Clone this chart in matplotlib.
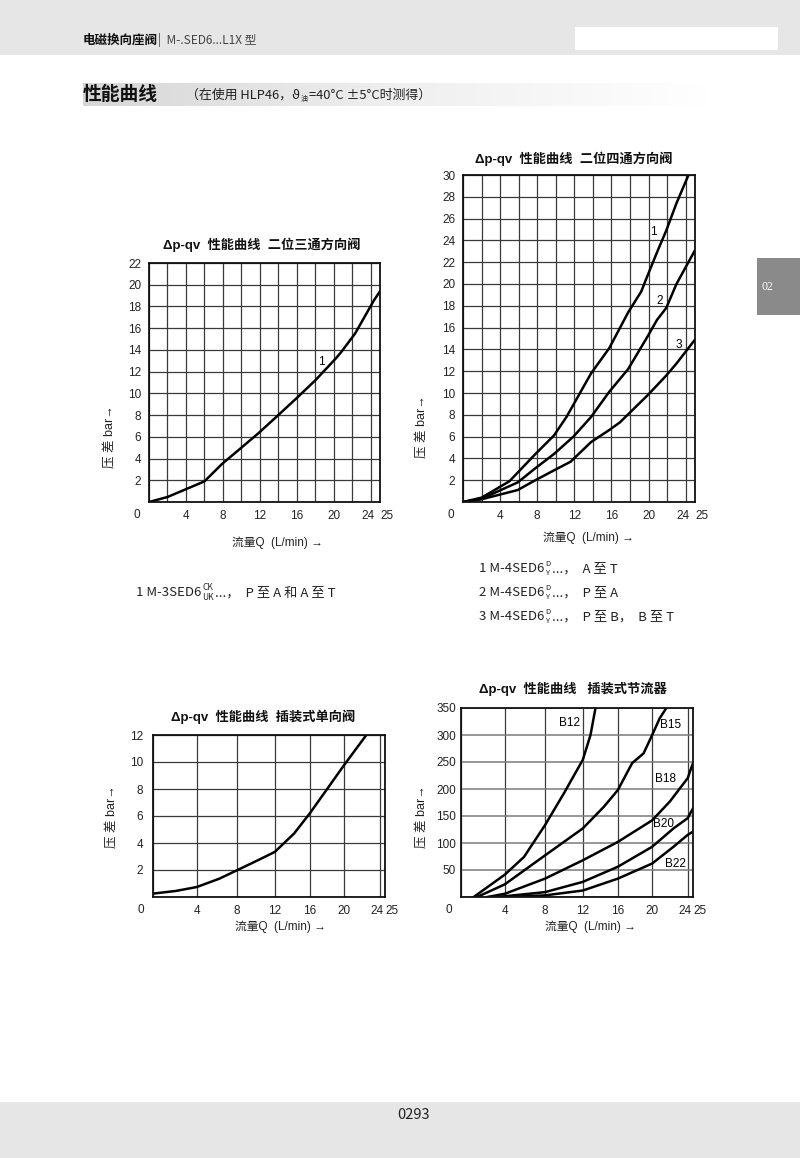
import matplotlib
matplotlib.use('Agg')
import matplotlib.pyplot as plt
import numpy as np
from matplotlib.patches import Rectangle
from matplotlib.colors import LinearSegmentedColormap
from matplotlib.transforms import ScaledTranslation

W, H = 800, 1158
FONT = ['Liberation Sans', 'Noto Sans CJK SC', 'DejaVu Sans']
CJK = ['Noto Sans CJK SC', 'DejaVu Sans']

# chart 1: 二位三通方向阀
q1 = [0, 2.0, 6.0, 7.9, 9.8, 11.8, 13.8, 15.9, 18.0, 20.2, 20.8, 22.3, 24.3, 25.0]
p1 = [0, 0.46, 1.9, 3.5, 4.86, 6.3, 7.85, 9.5, 11.2, 13.2, 13.8, 15.5, 18.5, 19.4]

# chart 2: 二位四通方向阀 (curves 1, 2, 3)
q2a = [0, 2.0, 5.0, 7.8, 9.8, 11.15, 13.8, 15.75, 17.8, 19.2, 19.9, 21.0, 21.9, 23.0, 24.3]
p2a = [0, 0.4, 1.9, 4.4, 6.1, 7.8, 11.8, 14.1, 17.4, 19.3, 20.8, 23.1, 24.9, 27.4, 30.0]
q2b = [0, 2.0, 5.9, 7.8, 9.8, 11.9, 13.8, 15.75, 17.8, 19.9, 20.9, 21.9, 23.0, 25.0]
p2b = [0, 0.3, 1.8, 3.1, 4.4, 6.0, 7.8, 10.1, 12.2, 15.2, 16.7, 17.8, 20.0, 23.1]
q2c = [0, 2.0, 5.9, 7.8, 9.8, 11.6, 13.8, 15.75, 16.9, 19.9, 21.9, 23.0, 25.0]
p2c = [0, 0.25, 1.1, 2.0, 2.9, 3.7, 5.5, 6.6, 7.3, 9.8, 11.6, 12.7, 14.9]
labels2 = ['1', '2', '3']
lab2_q = [20.5, 21.15, 23.2]
lab2_p = [24.8, 18.4, 14.4]

# chart 3: 插装式单向阀
q3 = [0, 2.1, 4.0, 6.25, 8.0, 10.0, 12.0, 14.2, 16.0, 18.06, 20.0, 22.5]
p3 = [0.25, 0.45, 0.74, 1.36, 1.98, 2.65, 3.34, 4.7, 6.2, 8.04, 9.78, 12.0]

# chart 4: 插装式节流器
q_b12 = [1.16, 4.0, 5.9, 8.0, 10.0, 12.0, 12.88, 13.45]
p_b12 = [0, 41.5, 74, 133, 192, 254, 300, 350]
q_b15 = [1.47, 4.0, 8.0, 12.0, 14.4, 16.0, 17.67, 19.0, 20.0, 20.85, 21.6]
p_b15 = [0, 23.5, 77, 127, 167, 198, 248, 266, 300, 331, 350]
q_b18 = [2.4, 4.0, 8.0, 12.0, 16.0, 20.0, 22.0, 24.0, 25.0]
p_b18 = [0, 6, 34, 68, 102, 142, 177, 220, 248]
q_b20 = [3.3, 8.0, 12.0, 16.0, 20.0, 22.4, 24.0, 25.0]
p_b20 = [0, 9, 28, 56, 93, 127, 146, 164]
q_b22 = [4.0, 8.0, 12.0, 16.0, 20.0, 22.4, 24.0, 25.0]
p_b22 = [0, 3, 12, 34, 62, 93, 115, 121]
labels4 = ['B12', 'B15', 'B18', 'B20', 'B22']
lab4_q = [10.6, 22.1, 21.5, 21.3, 22.6]
lab4_p = [323, 319, 219, 135, 61]

# the lower charts use an uneven flow axis
warp_q = [0, 4, 8, 12, 16, 20, 24, 25]
warp_f = [0, 0.189, 0.362, 0.525, 0.676, 0.824, 0.977, 1.0]

fig = plt.figure(figsize=(W / 100, H / 100), dpi=100)
renderer = fig.canvas.get_renderer()


def px_ax(l, t, r, b):
    return fig.add_axes([l / W, 1 - b / H, (r - l) / W, (b - t) / H])


def ftext(x, y, s, **kw):
    return fig.text(x / W, 1 - y / H, s, **kw)


def frect(x0, y0, x1, y1, color):
    fig.patches.append(Rectangle((x0 / W, 1 - y1 / H), (x1 - x0) / W, (y1 - y0) / H,
                                 transform=fig.transFigure, color=color, zorder=0, lw=0))


def run_text(x, y, parts, size=9.5, small=5.5, color='#222'):
    # lay out pieces of text one after another; a tuple is a stacked pair
    for p in parts:
        if isinstance(p, tuple):
            t1 = ftext(x + 1, y - 5.5, p[0], ha='left', va='center', fontsize=small, family=CJK, color=color)
            t2 = ftext(x + 1, y + 4, p[1], ha='left', va='center', fontsize=small, family=CJK, color=color)
            w = max(t1.get_window_extent(renderer).width, t2.get_window_extent(renderer).width)
            x += w + 2
        else:
            t = ftext(x, y, p, ha='left', va='center', fontsize=size, family=CJK, color=color)
            x += t.get_window_extent(renderer).width


def setup(ax, xgrid, ymax, ystep, ypad=5.5, warped=False):
    if warped:
        fwd = lambda x: np.interp(x, warp_q, warp_f) * 25
        inv = lambda y: np.interp(np.asarray(y) / 25, warp_f, warp_q)
        ax.set_xscale('function', functions=(fwd, inv))
    ax.set_xlim(0, 25)
    ax.set_ylim(0, ymax)
    xl = [str(v) if (v % 4 == 0 and v > 0) or v == 25 else '' for v in xgrid]
    ax.set_xticks(xgrid, labels=xl)
    yt = np.arange(0, ymax + 1, ystep)
    ax.set_yticks(yt, labels=['' if v == 0 else str(int(v)) for v in yt])
    ax.tick_params(length=0, labelsize=8.5, colors='#222')
    ax.tick_params(axis='x', pad=5.5)
    ax.tick_params(axis='y', pad=ypad)
    for lbl in ax.get_xticklabels() + ax.get_yticklabels():
        lbl.set_family(FONT)
    for lbl in ax.get_xticklabels():
        if lbl.get_text() == '24':
            lbl.set_transform(lbl.get_transform() + ScaledTranslation(-0.03, 0, fig.dpi_scale_trans))
        if lbl.get_text() == '25':
            lbl.set_transform(lbl.get_transform() + ScaledTranslation(0.07, 0, fig.dpi_scale_trans))
    ax.grid(True, color='#3a3a3a', lw=0.9)
    for s in ax.spines.values():
        s.set_linewidth(1.3)
        s.set_color('#111')
    ax.annotate('0', xy=(0, 0), xycoords='axes fraction', xytext=(-9, -9.5),
                textcoords='offset points', ha='center', va='center',
                fontsize=8.5, family=FONT, color='#222')


def titles(cx, ty, title, xl_x, xl_y, yl_x, yl_y):
    ftext(cx, ty, title, ha='center', va='center', fontsize=9.5, weight='bold', family=FONT, color='#111')
    ftext(xl_x, xl_y, '流量Q  (L/min) →', ha='center', va='center', fontsize=8.5, family=FONT, color='#222')
    ftext(yl_x, yl_y, '压 差 bar→', ha='center', va='center', fontsize=9, rotation=90, family=FONT, color='#222')


# page decoration
frect(0, 0, 800, 55, '#e6e6e6')
frect(575, 27, 778, 50, 'white')
frect(0, 1102, 800, 1158, '#e6e6e6')
frect(757, 258, 800, 315, '#8a8a8a')
ftext(761, 287, '02', ha='left', va='center', fontsize=8.5, family=['Liberation Serif'], color='white')
ftext(83, 40, '电磁换向座阀', ha='left', va='center', fontsize=9, weight='bold', family=CJK, color='#111')
ftext(158, 40, '|  M-.SED6...L1X 型', ha='left', va='center', fontsize=8.5, family=CJK, color='#444')
ftext(413, 1115, '0293', ha='center', va='center', fontsize=10.5, family=CJK, color='#222')

gax = px_ax(83, 83, 710, 106)
grad = np.linspace(0, 1, 256)[None, :]
gax.imshow(grad, aspect='auto', extent=(0, 1, 0, 1),
           cmap=LinearSegmentedColormap.from_list('g', ['#d6d6d6', '#efefef', '#ffffff']))
gax.axis('off')
ftext(83, 95, '性能曲线', ha='left', va='center', fontsize=13.5, weight='bold', family=CJK, color='#111')
run_text(186, 95, ['（在使用 HLP46，ϑ', ('', '油'), '=40°C ±5°C时测得）'], size=9.3, small=5)

grid2 = list(range(0, 25, 2)) + [25]
grid4 = warp_q

# chart 1
ax1 = px_ax(149, 263, 380, 502)
setup(ax1, grid2, 22, 2)
ax1.plot(q1, p1, color='black', lw=1.8)
ax1.text(18.7, 12.9, '1', ha='center', va='center', fontsize=8.5, family=FONT)
titles(262, 245, 'Δp-qv  性能曲线  二位三通方向阀', 277, 543, 110, 437)

# chart 2
ax2 = px_ax(463, 175, 695, 502)
setup(ax2, grid2, 30, 2)
for q, p in [(q2a, p2a), (q2b, p2b), (q2c, p2c)]:
    ax2.plot(q, p, color='black', lw=1.8)
for s, x, y in zip(labels2, lab2_q, lab2_p):
    ax2.text(x, y, s, ha='center', va='center', fontsize=8.5, family=FONT)
titles(574, 159, 'Δp-qv  性能曲线  二位四通方向阀', 588, 538, 422, 427)

# chart 3
ax3 = px_ax(153, 735, 385, 897)
setup(ax3, grid4, 12, 2, ypad=7, warped=True)
ax3.plot(q3, p3, color='black', lw=1.8)
titles(263, 717, 'Δp-qv  性能曲线  插装式单向阀', 280, 927, 112, 817)

# chart 4
ax4 = px_ax(461, 708, 693, 897)
setup(ax4, grid4, 350, 50, ypad=3.5, warped=True)
ax4.grid(True, axis='y', color='#7a7a7a', lw=1.1)
for q, p in [(q_b12, p_b12), (q_b15, p_b15), (q_b18, p_b18), (q_b20, p_b20), (q_b22, p_b22)]:
    ax4.plot(q, p, color='black', lw=1.8)
for s, x, y in zip(labels4, lab4_q, lab4_p):
    ax4.text(x, y, s, ha='center', va='center', fontsize=8.5, family=FONT)
titles(573, 689, 'Δp-qv  性能曲线   插装式节流器', 590, 927, 422, 817)

# legends under the top charts
run_text(136, 593, ['1 M-3SED6', ('CK', 'UK'), '...，  P 至 A 和 A 至 T'], small=6)

legend2 = ['A 至 T', 'P 至 A', 'P 至 B，  B 至 T']
for i, (s, y) in enumerate(zip(legend2, [569, 593, 617])):
    run_text(479, y, [f'{i + 1} M-4SED6', ('D', 'Y'), '...，  ' + s])

fig.savefig('out.png', dpi=100)
